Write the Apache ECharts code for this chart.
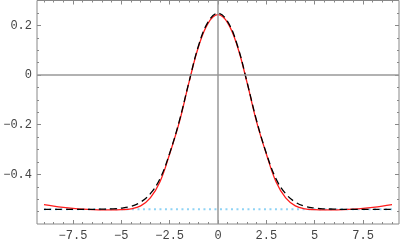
<!DOCTYPE html>
<html><head><meta charset="utf-8">
<script src="https://cdn.jsdelivr.net/npm/echarts@6/dist/echarts.min.js"></script>
<style>html,body{margin:0;padding:0;background:#fff}#c{width:400px;height:242px}</style>
</head><body><div id="c"></div>
<script>
// x positions of sampled points
const xs = [-9,-8.5,-8,-7.5,-7,-6.5,-6,-5.5,-5,-4.5,-4,-3.5,-3,-2.5,-2,-1.5,-1,-0.5,0,0.5,1,1.5,2,2.5,3,3.5,4,4.5,5,5.5,6,6.5,7,7.5,8,8.5,9];
// red solid curve
const redVals = [-0.522,-0.528,-0.533,-0.537,-0.540,-0.542,-0.543,-0.543,-0.542,-0.539,-0.527,-0.495,-0.430,-0.318,-0.190,-0.030,0.116,0.210,0.243,0.210,0.116,-0.030,-0.190,-0.318,-0.430,-0.495,-0.527,-0.539,-0.542,-0.543,-0.543,-0.542,-0.540,-0.537,-0.533,-0.528,-0.522];
// black dashed curve
const blackVals = [-0.541,-0.541,-0.541,-0.541,-0.541,-0.541,-0.540,-0.539,-0.536,-0.529,-0.512,-0.478,-0.418,-0.315,-0.185,-0.028,0.120,0.215,0.249,0.215,0.120,-0.028,-0.185,-0.315,-0.418,-0.478,-0.512,-0.529,-0.536,-0.539,-0.540,-0.541,-0.541,-0.541,-0.541,-0.541,-0.541];
// light blue dotted level
const levelX = [-9, 9];
const levelY = [-0.541, -0.541];
// tick labels
const xTicks = [-7.5,-5,-2.5,0,2.5,5,7.5];
const yTicks = [-0.4,-0.2,0,0.2];

const X_MIN=-9.36, X_MAX=9.36, Y_MIN=-0.6, Y_MAX=0.3;
function minors(lo, hi, step, majorStep){
  const out=[]; 
  for(let i=Math.ceil(lo/step); i*step<=hi+1e-9; i++){
    const v=+(i*step).toFixed(4);
    if(Math.abs(v/majorStep-Math.round(v/majorStep))>1e-6) out.push(v);
  }
  return out;
}
const xMinor = minors(X_MIN, X_MAX, 0.5, 2.5);
const yMinor = minors(Y_MIN, Y_MAX, 0.05, 0.2);
const fmt = v => String(+v.toFixed(2)).replace('-', '\u2212');
const tickColor = '#888';
const labelStyle = {fontFamily:'Liberation Mono', fontSize:12, color:'#444'};

function xa(pos, vals, len, labels){
  return {type:'value', position:pos, min:X_MIN, max:X_MAX,
    axisLine:{show:false, onZero:false}, splitLine:{show:false},
    axisTick:{show:true, inside:true, length:len, customValues:vals, lineStyle:{color:tickColor,width:1}},
    axisLabel: labels ? Object.assign({show:true, customValues:vals, formatter:fmt, margin:6}, labelStyle) : {show:false}};
}
function ya(pos, vals, len, labels){
  return {type:'value', position:pos, min:Y_MIN, max:Y_MAX,
    axisLine:{show:false, onZero:false}, splitLine:{show:false},
    axisTick:{show:true, inside:true, length:len, customValues:vals, lineStyle:{color:tickColor,width:1}},
    axisLabel: labels ? Object.assign({show:true, customValues:vals, formatter:fmt, margin:5}, labelStyle) : {show:false}};
}

const chart = echarts.init(document.getElementById('c'), null, {renderer:'canvas'});
chart.setOption({
  animation:false,
  grid:{left:37, right:1, top:0.5, bottom:18, show:true, borderColor:'#888', borderWidth:1, backgroundColor:'transparent'},
  xAxis:[xa('bottom', xTicks, 4, true), xa('bottom', xMinor, 2, false), xa('top', xTicks, 4, false), xa('top', xMinor, 2, false)],
  yAxis:[ya('left', yTicks, 4, true), ya('left', yMinor, 2, false), ya('right', yTicks, 4, false), ya('right', yMinor, 2, false)],
  series:[
    {type:'line', data:levelX.map((x,i)=>[x,levelY[i]]), showSymbol:false, silent:true,
     lineStyle:{color:'#8fd3f5', width:2, type:[2,3.5]},
     markLine:{silent:true, symbol:'none', label:{show:false}, lineStyle:{color:'#999', width:1.5, type:'solid'},
       data:[{yAxis:0},{xAxis:0}]}},
    {type:'line', data:xs.map((x,i)=>[x,redVals[i]]), showSymbol:false, smooth:0.4, silent:true,
     lineStyle:{color:'#ff1a1a', width:1.3}},
    {type:'line', data:xs.map((x,i)=>[x,blackVals[i]]), showSymbol:false, smooth:0.4, silent:true,
     lineStyle:{color:'#000', width:1.3, type:[7,4]}}
  ]
});
</script></body></html>
